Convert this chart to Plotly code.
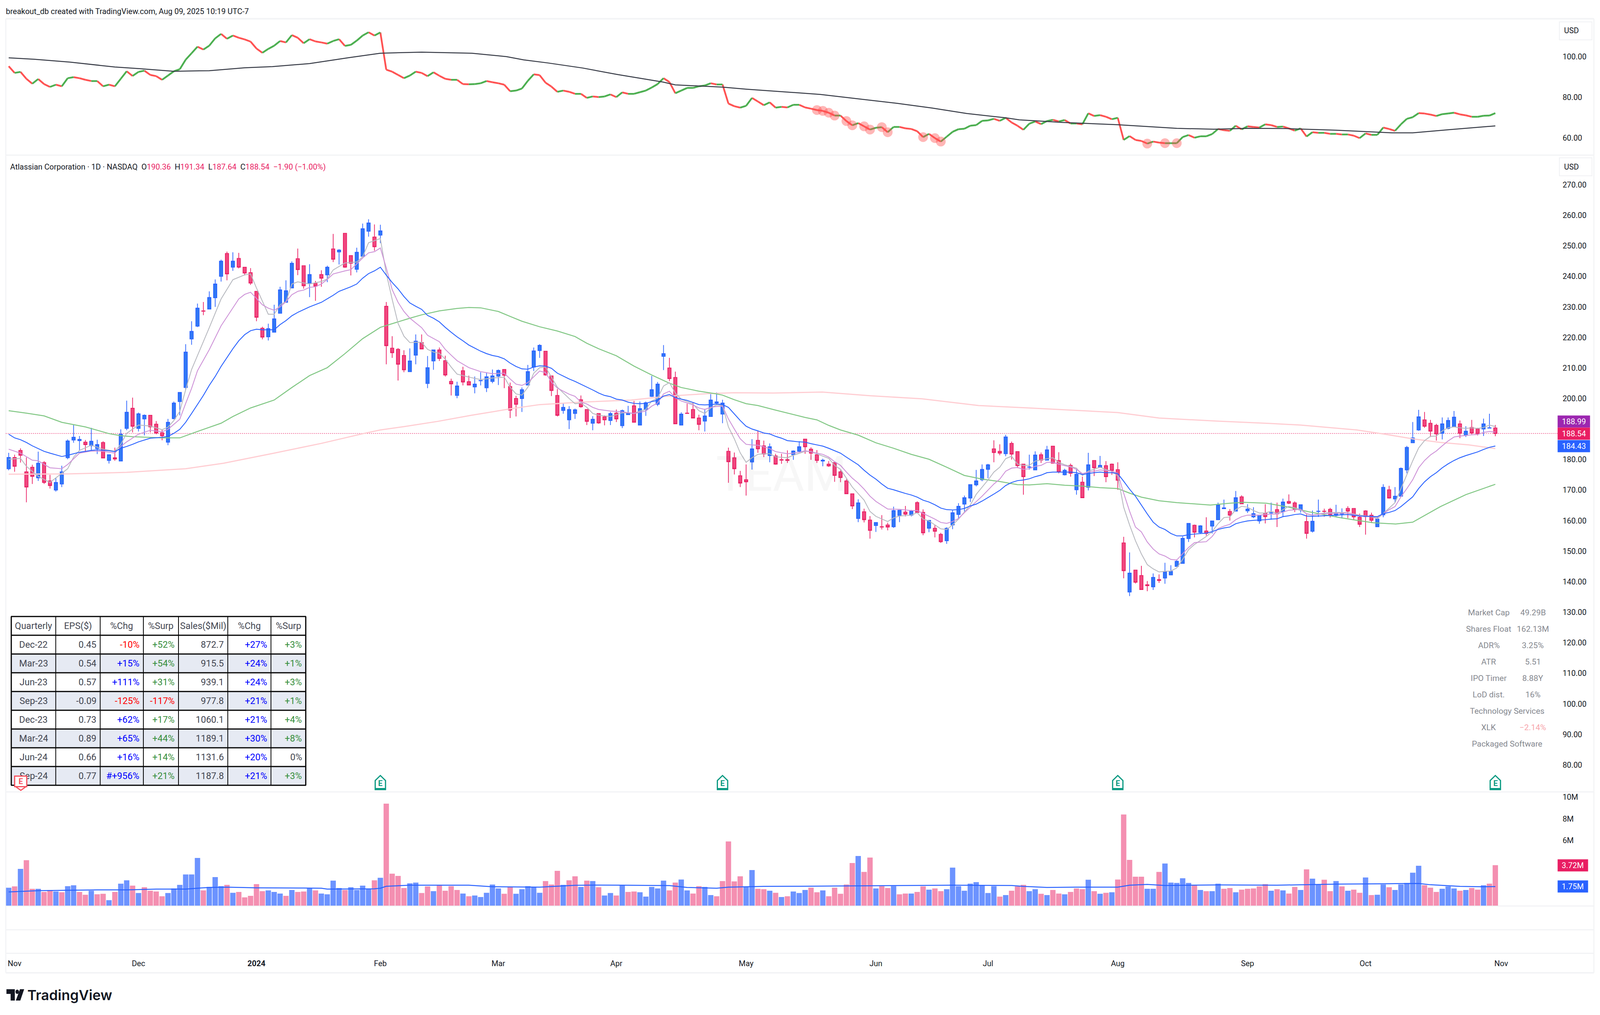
import plotly.graph_objects as go

# Reference geometry: positions below are given on a 4966 x 2598 sheet and converted to paper fractions.
W, H = 4966, 2598
FS = 0.87     # font scale: the browser's real window is narrower than the sheet
XS = 4096 / W # horizontal pixel scale of the real window

# ---------- price candles (one entry per trading day, Oct 31 2023 .. Oct 31 2024) ----------
candle_dir = """
u d d d d u d d u u
u u u d u u d u d u
u d u u d d d u u u
u u u d u u u d u d
d d d d u u u u u d
d u d d u d u d d u
u u d u d d d d u u
d u u d d d u d d u
u u u u d d d u u u
u d d d u u u d d u
d d u d u u d u u u
u u d d u d d d u u
u u d d d d u d d u
d d d u u d d d u d
d d d d u d d u d d
u u d u d d u d d u
u u u u u u u d d u
d d d u u d u d d u
d u d u d u d d d d
u d d d u d u u u u
u d u d u u u d u d
u u u d u d u d d u
d u u d d u u d d d
d d u u d u u u u u
d d d u u u d u d d
u u d""".split()

body_top = [
 180.7,180.7,183.0,176.0,177.5,178.8,179.0,173.0,172.5,176.0,
 186.1,187.3,186.6,185.7,186.0,184.9,185.6,181.6,180.6,188.3,
 195.5,196.8,195.0,194.5,194.5,191.6,188.8,192.2,198.5,202.0,
 215.2,222.0,229.6,228.7,233.1,237.5,245.0,247.5,245.0,245.9,
 243.0,241.2,235.1,223.0,222.9,226.1,235.6,235.3,244.3,245.8,
 243.5,240.6,237.7,240.6,243.0,249.0,248.6,254.1,246.8,247.9,
 255.6,257.5,252.9,254.9,230.2,216.5,216.1,214.1,212.3,218.8,
 218.3,210.1,215.9,215.9,212.4,205.6,204.1,209.1,205.5,204.7,
 205.9,207.1,207.4,209.2,209.5,203.9,200.0,202.9,208.8,215.6,
 217.4,215.5,207.4,201.0,197.1,196.4,196.3,199.6,196.4,193.2,
 195.1,194.0,195.1,195.2,196.0,195.3,197.6,196.7,198.6,202.9,
 204.7,214.7,210.0,206.9,194.9,195.2,196.4,193.6,194.3,199.5,
 198.9,198.5,182.7,180.6,174.7,173.4,183.5,186.3,184.5,184.2,
 181.2,180.0,180.0,182.8,184.2,186.7,183.4,181.6,179.8,178.5,
 179.0,176.0,173.0,168.8,165.8,162.9,160.2,159.4,158.0,158.6,
 163.3,163.4,162.8,163.1,165.9,162.7,160.1,157.5,155.5,157.5,
 162.6,164.7,167.5,171.8,173.0,176.8,178.3,183.5,182.7,187.4,
 185.3,182.6,178.5,177.6,181.5,181.6,183.2,184.4,179.7,176.5,
 178.1,175.2,172.6,178.3,179.7,178.1,178.0,178.5,176.7,152.7,
 142.8,143.8,142.0,139.0,141.4,140.7,143.2,143.4,146.7,154.2,
 159.1,158.5,158.3,156.6,159.9,165.1,164.2,163.0,167.5,167.8,
 163.8,162.3,161.8,162.5,162.6,163.6,166.1,166.3,165.8,165.2,
 159.7,159.8,163.1,163.1,163.7,162.6,162.3,164.0,164.0,161.1,
 163.2,161.8,160.5,170.9,170.1,168.0,177.1,184.0,187.1,194.0,
 193.0,191.9,191.2,191.7,192.8,193.9,191.7,189.3,190.5,190.0,
 191.7,190.4,190.36]
body_bottom = [
 177.0,177.8,181.4,171.0,174.5,174.0,172.5,171.5,170.0,172.0,
 180.6,186.4,186.2,184.9,184.5,183.6,180.5,179.7,180.2,179.5,
 190.2,190.9,190.2,193.3,190.7,188.7,187.8,185.7,193.4,199.0,
 203.6,219.5,223.7,228.6,229.3,233.0,240.0,240.8,243.0,243.0,
 241.1,237.8,226.6,220.1,220.2,221.7,227.9,231.5,236.2,242.2,
 236.9,237.8,236.8,239.4,240.5,245.6,248.0,243.0,244.3,242.3,
 246.6,254.8,249.7,253.5,217.3,215.0,211.2,209.4,208.8,214.2,
 216.2,204.9,212.3,213.1,207.7,204.8,201.0,205.4,204.4,203.8,
 205.8,203.5,205.6,207.3,207.6,196.2,198.1,200.0,204.4,210.3,
 215.7,207.7,202.6,194.5,196.1,193.0,195.1,197.3,192.5,191.9,
 192.0,193.0,192.8,193.3,191.1,194.7,192.2,191.3,196.3,200.7,
 198.1,213.8,206.5,191.7,191.3,195.1,193.6,191.5,192.6,194.1,
 198.5,194.9,179.3,177.0,172.3,172.7,179.2,183.5,181.8,181.3,
 178.5,179.8,179.7,181.6,182.7,184.2,182.1,179.7,179.5,177.9,
 174.8,174.1,168.8,164.8,160.7,160.3,156.8,158.4,157.9,157.9,
 158.0,161.7,162.1,161.8,162.7,156.0,157.5,156.5,153.1,153.4,
 158.6,162.0,165.4,167.4,171.7,173.4,176.8,182.3,182.1,181.9,
 181.8,178.0,174.4,177.5,176.6,179.8,179.8,178.8,176.0,175.0,
 175.5,170.1,167.5,170.9,177.3,177.4,174.4,176.4,173.2,143.6,
 136.6,139.8,137.4,138.7,138.3,140.4,141.2,142.2,145.0,146.0,
 154.1,156.2,156.1,155.8,158.2,160.3,163.9,161.8,163.1,165.5,
 163.2,161.2,159.9,161.3,162.5,162.2,162.9,165.7,163.7,163.5,
 155.8,156.5,163.0,163.0,162.0,161.7,162.2,163.1,161.2,158.8,
 161.3,160.1,158.0,161.9,167.4,167.1,168.0,176.6,185.5,189.7,
 190.9,189.3,188.4,188.6,190.2,190.7,188.6,188.0,188.7,188.5,
 190.0,190.3,188.54]
highs = [
 182.2,181.6,183.7,180.7,178.3,182.6,179.5,175.0,174.0,178.0,
 186.6,191.4,187.7,186.4,190.4,186.5,186.0,181.6,183.9,189.9,
 199.3,200.3,195.4,194.8,194.5,192.6,189.9,193.3,199.0,202.0,
 217.8,225.3,231.1,231.6,235.1,239.0,245.5,248.1,247.9,247.7,
 243.0,242.7,235.1,223.5,224.5,230.7,236.6,238.7,244.9,249.1,
 243.5,244.0,238.5,242.0,243.5,253.9,248.9,254.1,246.8,249.4,
 257.3,258.7,257.0,256.9,231.6,220.4,216.5,215.8,216.4,221.0,
 221.0,213.9,215.9,216.7,214.0,206.5,205.5,210.4,207.5,207.2,
 208.6,208.6,209.5,209.5,209.5,205.2,200.9,203.6,211.0,216.7,
 217.8,215.5,207.4,203.1,198.5,197.5,196.7,201.0,196.4,194.2,
 195.2,194.5,195.6,196.4,196.4,197.6,199.2,199.0,199.0,207.4,
 205.4,217.5,213.3,208.8,195.5,198.3,198.7,194.7,196.6,201.6,
 202.0,199.6,183.9,182.3,176.3,178.4,186.7,189.5,186.2,185.3,
 181.9,181.9,183.0,183.0,186.0,186.7,184.0,183.1,180.3,179.5,
 179.0,176.5,173.6,168.8,167.0,163.9,161.5,159.4,161.8,159.3,
 164.6,163.4,164.8,163.5,166.3,163.7,160.1,158.5,156.0,157.8,
 163.5,165.7,168.2,171.9,176.6,178.4,178.6,186.3,185.0,188.1,
 185.9,182.6,178.5,181.6,182.7,182.3,184.5,184.4,182.4,177.0,
 178.7,177.0,174.4,182.2,179.7,181.2,179.5,178.7,179.1,154.7,
 149.6,143.8,145.2,140.2,142.7,142.4,146.2,145.4,147.3,154.8,
 159.1,158.7,158.5,161.1,159.9,165.9,166.9,163.8,169.7,168.3,
 165.4,164.4,161.8,165.4,165.9,165.9,167.2,168.6,166.3,165.2,
 162.0,163.3,166.9,163.9,164.2,165.2,164.0,164.7,164.0,162.3,
 163.4,162.6,161.0,171.9,171.4,171.0,177.4,184.5,192.3,196.3,
 195.6,193.0,191.7,193.8,193.8,195.9,192.8,190.9,193.0,190.4,
 193.4,195.0,191.34]
lows = [
 176.5,176.0,179.0,166.0,172.0,173.0,172.0,170.5,169.5,171.0,
 180.1,185.5,183.0,182.6,182.7,181.8,180.5,178.7,179.6,179.5,
 189.6,188.9,189.2,187.9,188.9,188.3,186.3,184.7,193.2,194.5,
 202.8,217.6,223.4,227.3,229.3,230.0,238.3,238.7,241.8,242.6,
 240.3,237.2,225.3,219.4,219.0,221.7,227.9,231.5,236.2,240.4,
 236.0,233.2,232.0,236.6,238.1,244.7,243.9,242.8,240.3,241.3,
 246.6,253.0,248.4,250.9,211.2,213.3,205.9,208.6,208.8,211.2,
 216.2,203.4,209.4,212.3,207.2,201.0,200.1,204.3,204.4,201.7,
 204.3,202.1,205.0,204.4,203.4,193.6,194.1,195.6,204.4,209.0,
 213.3,207.5,200.8,194.1,195.0,190.0,193.3,197.0,191.3,189.6,
 191.7,191.2,191.3,192.3,190.3,194.7,192.2,191.3,194.3,200.5,
 197.5,209.3,205.7,191.7,191.3,195.1,193.6,189.6,189.2,194.0,
 198.2,191.9,172.4,175.1,171.0,168.2,176.7,182.2,180.8,179.1,
 178.3,178.6,178.9,179.9,182.4,181.9,179.9,178.9,177.8,177.6,
 172.7,172.6,168.8,163.8,159.5,159.4,154.1,156.3,157.1,156.8,
 157.6,159.5,161.4,161.4,162.7,155.2,156.2,154.5,152.7,152.4,
 157.2,160.7,163.0,166.1,171.2,172.9,173.9,179.1,181.4,181.1,
 180.0,177.2,168.5,176.7,176.6,178.9,179.8,178.8,175.5,174.8,
 174.4,168.5,167.4,169.9,174.6,177.4,172.6,175.0,170.1,141.1,
 135.3,139.4,137.4,136.9,137.3,139.6,139.3,142.2,145.0,146.0,
 153.0,154.5,155.8,155.1,155.8,160.3,163.8,160.0,163.1,165.4,
 162.5,160.8,159.0,159.1,160.3,157.9,161.3,165.4,162.8,162.6,
 154.1,156.1,161.2,161.3,161.0,161.1,160.7,160.8,160.3,157.9,
 155.4,159.2,158.0,161.1,167.2,165.9,168.0,175.5,185.5,189.4,
 190.4,187.4,186.2,186.6,189.9,190.6,187.0,187.4,188.3,187.9,
 187.7,190.3,187.64]

# ---------- moving averages on price: (bar index, price) ----------
ma_gray = [(0,180.1),(2,180.4),(3,177.8),(5,174.5),(7,172.5),(9,175.5),(10,177),(11,180.8),(12,183),(14,184.7),(16,183.4),(18,182.7),(19,185),(20,188.6),(22,191.3),(24,191),(26,189.8),(27,190.6),(28,192.8),(29,195.8),(30,202.9),(31,209.5),(32,214),(34,223.2),(36,232.6),(38,238.9),(40,240.5),(41,240.8),(42,236.2),(44,227.6),(45,227.6),(46,230.7),(47,231.7),(48,237.5),(49,238.2),(51,237.5),(53,238.3),(54,239.2),(55,242.1),(57,244.4),(59,244.7),(60,246.4),(61,251),(63,252.4),(64,241),(65,232.5),(66,224.6),(67,220.4),(68,218.3),(69,218.4),(70,218.4),(71,216.1),(72,215.2),(73,214.8),(74,212.9),(75,210.3),(76,208),(78,207),(80,206.2),(82,206.7),(84,207),(85,203.7),(86,201.5),(87,201.1),(88,203.7),(89,208.3),(90,210.1),(91,210.3),(92,207),(93,203.7),(95,200),(96,198.3),(97,198.5),(98,197.1),(99,195.1),(100,194.5),(102,194.1),(104,195.3),(105,195.3),(106,195.1),(107,195.9),(108,196.4),(109,199.2),(110,200.1),(111,204.1),(112,205.2),(113,201.8),(114,199.8),(116,198.2),(117,196),(118,195.1),(119,196.9),(120,197.9),(121,197.7),(122,190.7),(123,186.8),(124,182.2),(125,179.1),(126,180.6),(127,181.7),(128,181.9),(129,181.9),(130,180.9),(132,180.6),(133,181.4),(135,182.7),(136,182.6),(138,181.1),(139,180.4),(140,178.1),(141,176.8),(142,173.9),(143,171),(145,166.7),(146,163),(147,161.4),(149,159.7),(150,160.9),(151,161.5),(153,161.8),(154,162.6),(155,160.5),(156,159.9),(158,157.3),(159,157.1),(160,158.6),(161,160.5),(162,162.8),(163,165.1),(164,168.6),(166,173.3),(167,175.9),(168,177.5),(169,180.3),(170,181.1),(171,178.5),(172,178.1),(173,178.1),(174,179.5),(176,180.3),(177,180.6),(178,179.1),(179,178.3),(181,177.2),(182,174.8),(183,176.2),(184,176.9),(185,177.5),(186,176.7),(187,176.2),(188,174.6),(189,164.4),(190,158.6),(191,153.4),(192,149.1),(193,145.6),(194,144.2),(195,143.2),(196,143.4),(197,143.5),(198,144.5),(199,147.3),(200,150.5),(201,152.2),(203,154.8),(204,156.4),(205,159),(206,161),(207,161.2),(208,163.6),(209,164.7),(210,164.4),(211,163.3),(212,162.5),(213,162.5),(214,163.1),(215,162.3),(216,163.6),(217,164.7),(218,164.2),(219,163.6),(220,162.2),(221,161.8),(223,162.5),(225,162.7),(227,162.6),(229,161.8),(231,161.3),(232,160.6),(233,162.3),(234,164.1),(235,165.9),(236,170.4),(237,175),(238,179.6),(239,183.8),(240,186.2),(241,187.6),(242,187.7),(243,189.4),(244,190.4),(245,190.7),(246,190.4),(247,190.2),(248,190.4),(249,190.2),(250,190.5),(251,191.3),(252,190.8)]
ma_purple = [(0,183.4),(2,182.1),(4,179.8),(5,179.6),(7,177.3),(9,177),(10,178.4),(12,182.1),(14,182.8),(16,182.7),(18,182.1),(19,184.3),(20,185.8),(22,188.3),(24,189.6),(26,189.1),(27,189.9),(28,191.5),(29,193.2),(30,198.4),(31,203.3),(32,209.1),(34,216),(36,223.8),(38,229.7),(39,232.6),(40,234.1),(41,234.8),(42,232.8),(43,230.7),(44,229.6),(45,228.9),(46,230),(47,231.7),(48,234),(49,235.1),(50,235.5),(51,236.4),(52,236.6),(53,237.5),(54,239),(55,240.8),(57,241.8),(58,242.2),(59,244.1),(60,246),(61,247.7),(62,248.1),(63,249.3),(64,242.8),(65,235.7),(66,231.5),(67,228.5),(68,226.3),(70,223.2),(71,220.7),(73,218.6),(74,216.1),(75,214.2),(76,212.4),(78,210.1),(80,208.8),(82,208.1),(84,208.3),(85,206.4),(86,204.7),(87,204.3),(88,205.2),(89,207.1),(90,209),(91,208.5),(92,205.4),(93,203.4),(95,201.4),(96,200.7),(97,198.8),(98,198.2),(99,197.1),(100,196.4),(102,195.9),(104,195.6),(106,195.1),(108,195.9),(109,197.5),(110,198.5),(111,201.5),(112,202.4),(113,200.2),(114,199.2),(116,197.9),(117,196.9),(118,196.4),(119,197.1),(120,197.4),(121,197.5),(122,193.3),(123,190),(124,186.8),(125,185),(126,184.8),(127,184.7),(128,184.2),(129,183.6),(130,182.6),(132,181.9),(133,182.1),(134,182.4),(135,182.9),(137,182.1),(138,181.7),(139,180.8),(140,179.3),(141,178.1),(142,175.9),(143,173.9),(144,172.3),(145,170.3),(146,168),(147,166.3),(148,165),(149,163.8),(151,163.7),(153,163.3),(154,163.3),(155,162.4),(156,161.5),(157,160.5),(158,159.4),(159,159.1),(160,159.7),(161,160.7),(162,162.6),(163,164.4),(164,166.1),(165,168),(166,170),(167,172),(168,173.6),(169,176.2),(170,177.2),(171,177.4),(172,176.8),(173,177),(174,177.8),(175,178.1),(176,179.1),(177,179.1),(178,178.5),(179,178),(180,177.6),(181,176.8),(182,175.4),(183,175.9),(184,176.2),(185,176.6),(186,176.4),(187,176.2),(188,175.5),(189,169),(190,163.1),(191,157.9),(192,156.3),(193,153),(194,150.7),(195,149.1),(196,148.4),(197,147.3),(198,147.1),(199,149.2),(200,151.2),(201,152.8),(203,153.1),(204,154.8),(205,157.4),(206,158.2),(207,158.8),(208,160.3),(209,161.3),(210,161.8),(211,161.8),(212,161.8),(213,162),(215,162.2),(216,162.8),(217,163.4),(219,163.7),(220,162.3),(221,161.8),(223,162.3),(225,162.4),(227,162.5),(229,161.6),(231,161.3),(232,161.1),(233,162.3),(234,163.6),(235,164.6),(236,167.8),(237,170.5),(238,173.4),(239,177.3),(240,179.7),(241,181.5),(242,182.8),(243,184.5),(244,186.1),(245,187.4),(246,187.7),(247,187.9),(248,188.1),(249,188.2),(250,188.9),(251,189.2),(252,188.99)]
ma_blue = [(0,188.3),(1,187.1),(2,186.5),(3,185.6),(4,184.5),(6,182.7),(7,182.1),(9,181),(10,181.4),(12,182.4),(14,183),(15,183.2),(17,182.9),(18,182.6),(19,183.7),(20,184.3),(21,185),(22,185.8),(24,187),(26,187.3),(27,187.6),(28,188.6),(29,189.9),(30,192.2),(31,195.1),(32,198),(33,201),(34,204.3),(35,207.2),(36,210.5),(37,213.4),(38,216.3),(39,218.9),(40,220.9),(41,222.2),(42,222.7),(43,222.5),(45,222.5),(46,224.2),(47,225.5),(48,227.1),(49,228.2),(50,229.1),(51,230),(53,231.5),(54,232.6),(55,233.8),(56,235.1),(58,236.6),(59,237.5),(60,239.4),(61,240.9),(62,241.8),(63,243),(64,240.4),(65,238),(66,235.9),(67,233.4),(68,231.3),(69,230.2),(70,229.2),(71,227.2),(72,226.3),(73,225.1),(74,223.3),(75,221.7),(76,220.2),(77,218.9),(78,217.5),(79,216.5),(80,215.5),(81,214.7),(82,214.1),(83,213.7),(84,213),(85,211.6),(86,210.5),(87,209.7),(88,209.6),(89,210.3),(90,210.7),(91,210.6),(92,209.9),(93,208.3),(94,207.3),(95,206.4),(96,205.6),(97,204.7),(98,203.7),(99,202.8),(100,201.8),(101,201),(102,200.6),(103,199.8),(104,199.5),(105,198.8),(106,198.4),(107,198.3),(108,198.4),(109,199),(110,199.4),(111,200.8),(112,201.3),(113,200.3),(114,199.8),(115,199.4),(116,198.7),(117,198),(118,197.9),(119,198),(120,198.2),(121,198),(122,197.1),(123,194.9),(124,192.8),(125,190.9),(126,190),(127,189.4),(128,188.7),(129,188.4),(130,187.6),(131,187),(132,186.2),(133,186),(134,185.8),(135,185.7),(136,185.2),(137,184.8),(138,184.4),(139,183.7),(140,182.9),(141,182.1),(142,180.8),(143,179.5),(144,178.3),(145,176.5),(146,174.9),(147,173.6),(148,172),(149,170.6),(150,170.1),(151,169.5),(152,168.9),(153,168.4),(154,167.7),(155,166.7),(156,166.1),(157,165.2),(158,164.1),(159,163.6),(160,163.5),(161,163.6),(162,164),(163,164.8),(164,165.4),(165,166.4),(166,167.5),(167,168.7),(168,169.9),(169,171.5),(170,172.5),(171,173.1),(172,173.3),(173,173.7),(174,174.4),(175,174.9),(176,175.7),(177,175.9),(178,175.9),(179,175.9),(180,175.9),(181,175.7),(182,175.1),(183,175.4),(184,175.7),(185,175.9),(186,175.7),(187,175.7),(188,175.4),(189,172.9),(190,170.3),(191,168),(192,165.1),(193,162.2),(194,159.5),(195,157.9),(196,157.1),(197,155.8),(198,155),(199,155),(200,155.4),(201,155.6),(203,155.9),(204,156.4),(205,157.1),(206,157.6),(207,157.9),(208,159),(209,159.5),(210,159.9),(211,160.1),(212,160.2),(213,160.3),(214,160.5),(215,160.6),(216,161.3),(217,161.6),(218,162),(219,162.2),(220,161.5),(221,161.4),(223,161.6),(225,161.8),(227,162),(229,161.5),(231,161.4),(232,161.3),(233,162.3),(234,162.7),(235,163.3),(236,164.6),(237,166.2),(238,167.8),(239,170.5),(240,172.7),(241,174.4),(242,175.7),(243,177.3),(244,178.6),(245,179.7),(246,180.6),(247,181.3),(248,181.9),(249,182.5),(250,183.3),(251,184),(252,184.43)]
ma_green = [(0,196),(3,195.2),(6,194.3),(9,192.2),(13,190.7),(17,188.5),(19,187.8),(21,187.5),(26,187.1),(29,187.1),(32,189.2),(36,191.9),(38,194.1),(41,196.9),(45,199.5),(48,203.6),(51,207.5),(54,210.1),(57,214.7),(60,219.6),(63,223.3),(66,225.1),(68,226.3),(70,227.4),(73,228.7),(76,229.5),(78,229.8),(80,229.7),(83,228.5),(85,226.9),(87,225.3),(90,223.5),(93,222.1),(96,220.3),(98,218.1),(100,216.3),(103,214),(106,210.6),(109,207.7),(112,205),(114,203.6),(117,202.4),(120,201.5),(121,201.1),(123,199.6),(125,198.3),(127,197.7),(130,196.2),(133,194.8),(135,193.8),(137,193),(139,191.2),(141,189.7),(144,188),(147,185.5),(150,183.7),(153,181.7),(156,180.1),(159,177.5),(162,174.8),(165,173.6),(168,172.8),(171,171.8),(173,171.7),(176,172.1),(179,171.6),(182,171.3),(185,170.8),(188,170.5),(190,169),(192,167.7),(195,166.5),(198,165.9),(200.8,165.5),(203.7,165.1),(207,165.7),(209.4,166),(213.2,165.7),(216.5,164.6),(220.4,162.9),(225.6,161),(228.5,160.1),(231.3,159.3),(235.1,158.9),(238,159.5),(242.7,164.6),(247,168.5),(252,171.9)]
ma_pink = [(0,175.2),(10,175.3),(20,175.8),(30,177),(36.4,178.8),(44.7,182),(53,185.3),(60.3,188.6),(63,189.7),(67,190.8),(72.7,192.5),(78.4,194.5),(85,196.6),(90,198),(96.8,198.8),(105.5,199.5),(112,200.8),(118.5,201.6),(123,201.9),(129.6,201.8),(137.9,202.1),(146.1,200.9),(154.8,199.9),(164.4,197.7),(173,196.9),(180,196.2),(188,195.4),(195,193.6),(204.7,192.6),(214,191.8),(219,191.3),(228.5,189.7),(233,188.4),(238,186.8),(242.7,185.6),(247.5,184.8),(252,183.6)]

# ---------- relative-strength panel ----------
rs_values = [
 95.3,92.0,92.5,89.1,86.7,89.0,86.5,85.1,86.2,85.4,89.4,89.9,89.4,88.6,88.0,88.0,85.4,86.2,85.4,89.1,
 92.8,90.5,92.5,93.1,91.0,90.4,88.6,90.7,92.8,93.8,98.5,101.7,104.9,103.5,105.4,109.0,111.2,108.8,110.4,109.3,
 108.5,107.4,104.0,101.9,103.8,105.4,107.7,107.0,110.6,109.3,106.6,108.6,107.5,107.0,106.4,107.7,108.6,105.3,105.8,107.9,
 110.4,112.0,110.4,111.9,93.6,92.6,91.0,89.4,90.7,92.6,92.0,90.4,92.3,90.6,89.1,88.6,88.6,86.5,86.4,86.5,
 86.9,88.0,87.4,86.9,86.2,83.0,83.3,84.3,88.1,91.3,90.9,87.2,
 85.25,82.7,83.3,82.7,81.7,81.7,79.7,80.4,80.1,80.4,81.4,80.1,82.4,81.7,81.7,82.5,83.3,84.8,86.5,89.4,87.5,82.0,
 83.3,84.6,84.6,85.4,85.8,86.9,86.3,86.3,76.9,75.6,74.9,75.8,79.7,77.9,76.1,77.5,74.9,75.3,75.0,76.3,76.3,75.0,
 74.4,73.7,73.3,72.4,71.0,71.0,68.3,66.2,67.3,65.7,64.1,65.0,65.3,62.8,65.4,65.4,64.7,64.4,63.3,60.4,62.0,59.9,
 58.2,60.6,63.0,64.3,64.5,66.0,66.3,68.4,68.6,69.4,68.4,69.9,67.6,66.0,64.0,67.0,68.1,66.8,68.3,68.9,68.1,68.8,
 67.1,67.1,66.7,72.1,70.8,
 71.2,70.4,69.2,69.9,59.0,60.9,59.0,58.5,57.2,58.2,57.7,57.4,57.4,57.4,60.4,61.4,60.1,60.8,60.8,61.9,64.4,63.8,
 63.5,66.0,64.2,65.7,65.4,65.1,66.7,66.3,65.4,65.6,64.7,63.6,64.7,60.7,62.8,62.5,62.5,62.0,62.0,61.7,61.7,61.1,
 59.9,62.2,61.5,61.5,65.1,64.4,63.5,66.7,69.4,70.2,72.2,72.0,71.5,70.8,71.7,72.0,72.4,71.6,71.1,70.4,70.4,70.9,
 71.0,72.2]
rs_ma = [(0,99.4),(4.4,98.7),(10.4,97.3),(18,94.9),(22.2,94.1),(28,92.8),(34,93.1),(40,94.5),(44.7,95.1),(51,96.6),(57.7,99.5),(63,101.7),(70,102.2),(78.5,101.7),(84.4,100),(87.3,98.4),(91.4,96.9),(97.3,94.4),(103.2,91.2),(110.9,87.5),(113,86.1),(121,85),(125,84),(137.6,81.4),(150.6,77),(156.5,74.7),(162.4,72),(169,69.9),(171.3,68.9),(178.8,67.6),(188,66.5),(198,64.7),(204.3,64.3),(210,64.7),(216.5,64.6),(225,63.8),(234.5,62.5),(238,62.5),(244.3,64.1),(252,65.9)]
rs_new_lows = [137,138,139,140,142,143,145,146,148,149,155,157,158,193,196,198]

# ---------- volume panel (millions of shares) ----------
volumes = [
 1.65,1.77,3.38,4.18,1.55,1.55,1.26,1.43,1.30,1.23,1.79,1.87,1.26,1.00,1.37,1.04,1.09,0.50,1.26,2.02,
 2.33,1.84,1.16,1.69,1.37,1.30,0.86,1.16,1.58,1.91,2.87,2.87,4.39,1.40,1.72,2.63,1.79,1.91,1.18,1.26,
 0.76,0.90,1.98,1.33,1.40,1.26,1.11,0.90,1.44,1.26,1.30,1.58,1.40,1.11,1.04,2.30,1.62,1.44,1.69,1.44,
 1.84,1.55,2.33,2.56,9.39,2.94,2.73,1.62,2.05,2.12,1.16,1.77,1.33,1.91,1.37,1.79,1.44,1.11,0.86,0.93,
 0.79,1.18,1.94,1.58,1.09,1.69,1.09,1.51,1.79,1.69,1.18,2.26,
 1.94,3.20,1.91,2.33,2.70,1.72,2.30,2.26,1.69,0.93,1.16,0.93,1.88,1.26,1.30,1.23,0.83,1.72,1.58,2.30,
 1.40,2.12,2.40,1.40,1.11,1.79,1.72,0.97,0.86,2.26,5.91,2.23,2.70,1.72,3.27,1.55,1.51,1.37,1.18,0.79,
 0.86,1.30,1.16,1.44,1.65,1.23,1.40,0.86,1.65,1.09,1.94,3.92,4.57,3.10,4.42,1.58,1.79,1.62,1.79,1.04,
 1.11,1.11,1.26,1.77,1.47,1.58,1.33,1.51,3.50,1.79,1.37,2.02,2.16,1.84,1.16,1.79,0.83,0.97,1.37,1.77,
 1.91,1.33,1.51,1.09,0.97,1.44,1.11,1.04,1.26,1.58,
 1.51,2.38,1.33,1.09,1.18,1.23,2.40,8.39,4.21,2.66,2.66,1.55,1.55,3.10,3.88,2.12,2.09,2.52,2.09,1.88,
 1.44,1.33,1.33,2.02,1.55,1.62,1.23,1.47,1.55,1.58,1.77,1.98,1.37,1.51,1.40,1.11,1.72,1.44,3.34,2.48,
 1.92,2.38,1.33,2.26,1.77,1.37,1.47,1.18,2.59,0.97,1.00,1.94,1.69,1.44,1.95,2.09,3.03,3.67,1.88,1.65,
 1.26,1.55,1.77,1.58,1.37,1.44,1.62,1.47,1.87,2.02,3.72]
volume_side = """
b p b p p b p p b p
b b p p b p p b p b
b p b p p p p b b b
b b b p b b b p b p
p p p p b b b p b p
p b p b b b b p b b
b b p b p p p p b b
p p b p p p p b p b
b b b b p p b b b b
b p p p b p p b p b
p b b p b p p b b b
b b p p b b p p b b
p p p p p b b p p b
p b p b b b p p b p
p p p p b p p b p p
b p p b p p b p p b
b b b b b b b b p b
p p p b b p b p p b
p p p b p b p b p p
p p p b b p b b b b
b p b p b b p p b p
p p p p b p b p p b
p b b p p b p b p p
b p b b p b b b b b
p p p b b b p b p p
b p p""".split()
volume_ma = [(0,1.26),(5,1.38),(15,1.45),(20,1.45),(25,1.52),(30,1.52),(32,1.6),(34,1.67),(37,1.70),(42,1.64),(50,1.62),(53,1.60),(54,1.52),(62,1.55),(63,1.60),(64,1.78),(68,1.88),(78,1.88),(82,1.74),(90,1.70),(96,1.87),(100,1.89),(104,1.88),(112,1.84),(115,1.67),(120,1.60),(122,1.70),(128,1.77),(134,1.78),(145,1.81),(150,1.84),(160,1.88),(170,1.85),(172,1.77),(176,1.67),(181,1.70),(185,1.71),(188,1.70),(190,1.88),(193,1.95),(196,1.85),(205,1.91),(215,1.88),(225,1.98),(235,2.02),(239,2.04),(241,1.92),(246,1.77),(250,1.74),(252,1.75)]

# ---------- tables and text ----------
month_bars = [1,22,42,63,83,103,125,147,166,188,210,230,253]
month_labels = ["Nov","Dec","<b>2024</b>","Feb","Mar","Apr","May","Jun","Jul","Aug","Sep","Oct","Nov"]
price_ticks = [80,90,100,110,120,130,140,150,160,170,180,200,210,220,230,240,250,260,270]
rs_ticks = [60, 80, 100]
volume_ticks = [6, 8, 10]
earnings_beat_bars = [63, 121, 188, 252]
earnings_miss_bar = 2

table_header = ["Quarterly","EPS($)","%Chg","%Surp","Sales($Mil)","%Chg","%Surp"]
table_quarter = ["Dec-22","Mar-23","Jun-23","Sep-23","Dec-23","Mar-24","Jun-24","Sep-24"]
table_eps = ["0.45","0.54","0.57","-0.09","0.73","0.89","0.66","0.77"]
table_eps_chg = ["-10%","+15%","+111%","-125%","+62%","+65%","+16%","#+956%"]
table_eps_surp = ["+52%","+54%","+31%","-117%","+17%","+44%","+14%","+21%"]
table_sales = ["872.7","915.5","939.1","977.8","1060.1","1189.1","1131.6","1187.8"]
table_sales_chg = ["+27%","+24%","+24%","+21%","+21%","+30%","+20%","+21%"]
table_sales_surp = ["+3%","+1%","+3%","+1%","+4%","+8%","0%","+3%"]

stats_rows = [("Market Cap","49.29B"),("Shares Float","162.13M"),("ADR%","3.25%"),("ATR","5.51"),
              ("IPO Timer","8.88Y"),("LoD dist.","16%")]

# ---------- colours ----------
UP, UP_FILL = "#2962FF", "#3179F5"
DOWN, DOWN_FILL = "#E91E63", "#F0487F"
VOL_UP, VOL_DOWN = "#6C93FF", "#F48FB1"
TXT = "#131722"
FONT = "Roboto"

n = len(body_top)
bars = list(range(n))
assert all(len(s) == n for s in (body_bottom, highs, lows, candle_dir, rs_values, volumes, volume_side)), \
    [len(s) for s in (body_bottom, highs, lows, candle_dir, rs_values, volumes, volume_side)]

opens = [b if d == "u" else t for t, b, d in zip(body_top, body_bottom, candle_dir)]
closes = [t if d == "u" else b for t, b, d in zip(body_top, body_bottom, candle_dir)]

# ---------- page geometry ----------
def fx(px): return px / W
def fy(py): return 1 - py / H

BAR0, BARSTEP = 27, 18.31
PLOT_L, PLOT_R, FRAME_R = 18, 4834, 4947
xrange_all = [(PLOT_L - BAR0) / BARSTEP, (PLOT_R - BAR0) / BARSTEP]
def bar_px(k): return BAR0 + BARSTEP * k

fig = go.Figure()

# RS panel
xs_r, ys_r, xs_g, ys_g = [], [], [], []
for i in range(n - 1):
    if rs_values[i + 1] >= rs_values[i]:
        xs_g += [i, i + 1, None]; ys_g += [rs_values[i], rs_values[i + 1], None]
    else:
        xs_r += [i, i + 1, None]; ys_r += [rs_values[i], rs_values[i + 1], None]
fig.add_trace(go.Scatter(x=xs_r, y=ys_r, mode="lines", line=dict(color="#FF5252", width=4.5), xaxis="x", yaxis="y"))
fig.add_trace(go.Scatter(x=xs_g, y=ys_g, mode="lines", line=dict(color="#4CAF50", width=4.5), xaxis="x", yaxis="y"))
fig.add_trace(go.Scatter(x=[p[0] for p in rs_ma], y=[p[1] for p in rs_ma], mode="lines",
                         line=dict(color="#363A45", width=2.5), xaxis="x", yaxis="y"))
fig.add_trace(go.Scatter(x=rs_new_lows, y=[rs_values[k] for k in rs_new_lows], mode="markers",
                         marker=dict(size=25, color="rgba(255,82,82,0.42)", line=dict(width=0)), xaxis="x", yaxis="y"))

# Price panel
fig.add_trace(go.Candlestick(x=bars, open=opens, high=highs, low=lows, close=closes,
                             increasing=dict(line=dict(color=UP, width=1.8), fillcolor=UP_FILL),
                             decreasing=dict(line=dict(color=DOWN, width=1.8), fillcolor=DOWN_FILL),
                             whiskerwidth=0, xaxis="x2", yaxis="y2"))
for series, colour, width in [(ma_pink, "#FFCDD2", 3), (ma_green, "#81C784", 2.5), (ma_gray, "#B8BAC0", 2.2),
                              (ma_purple, "#CE93D8", 2.2), (ma_blue, "#2962FF", 2.2)]:
    fig.add_trace(go.Scatter(x=[p[0] for p in series], y=[p[1] for p in series], mode="lines",
                             line=dict(color=colour, width=width), xaxis="x2", yaxis="y2"))

# Volume panel
fig.add_trace(go.Bar(x=bars, y=volumes, marker=dict(color=[VOL_UP if s == "b" else VOL_DOWN for s in volume_side], line=dict(width=0)),
                     xaxis="x3", yaxis="y3"))
fig.add_trace(go.Scatter(x=[p[0] for p in volume_ma], y=[p[1] for p in volume_ma], mode="lines",
                         line=dict(color="#2962FF", width=2.5), xaxis="x3", yaxis="y3"))

# ---------- shapes ----------
shapes = []
def hline(py, w=2, c="#EDEEF1"):
    shapes.append(dict(type="line", xref="paper", yref="paper", x0=fx(PLOT_L), x1=fx(FRAME_R), y0=fy(py), y1=fy(py),
                       line=dict(color=c, width=w), layer="below"))
hline(48, 4, "#F3F4F6"); hline(397); hline(2027); hline(2319); hline(2380); hline(2440); hline(2490, 4, "#F3F4F6")
for vx in (PLOT_L, FRAME_R):
    shapes.append(dict(type="line", xref="paper", yref="paper", x0=fx(vx), x1=fx(vx), y0=fy(48), y1=fy(2490),
                       line=dict(color="#F3F4F6", width=3), layer="below"))
shapes.append(dict(type="line", xref="paper", yref="y2", x0=fx(PLOT_L), x1=fx(PLOT_R), y0=closes[-1], y1=closes[-1],
                   line=dict(color=DOWN, width=1.5, dash="2px,3px"), layer="below"))
for ytop in (56, 404):
    shapes.append(dict(type="rect", xref="paper", yref="paper", x0=fx(4840), x1=fx(4941), y0=fy(ytop), y1=fy(ytop + 46),
                       line=dict(color="#F0F1F4", width=2), fillcolor="white", layer="below"))

# quarterly table
col_edges = [35, 173, 311, 445, 554, 707, 841, 949]
row_edges = [1578, 1626, 1674, 1722, 1770, 1818, 1866, 1914, 1962, 2010]
shapes.append(dict(type="rect", xref="paper", yref="paper", x0=fx(col_edges[0]), x1=fx(col_edges[-1]),
                   y0=fy(row_edges[0]), y1=fy(row_edges[-1]), fillcolor="white", line=dict(width=0), layer="above"))
for r in range(1, 9):
    if r % 2 == 0:
        shapes.append(dict(type="rect", xref="paper", yref="paper", x0=fx(col_edges[0]), x1=fx(col_edges[-1]),
                           y0=fy(row_edges[r]), y1=fy(row_edges[r + 1]), fillcolor="#E6EAF3", line=dict(width=0), layer="above"))
for py in row_edges:
    shapes.append(dict(type="line", xref="paper", yref="paper", x0=fx(col_edges[0] - 1), x1=fx(col_edges[-1] + 1), y0=fy(py), y1=fy(py),
                       line=dict(color="black", width=3), layer="above"))
for px in col_edges:
    shapes.append(dict(type="line", xref="paper", yref="paper", x0=fx(px), x1=fx(px), y0=fy(row_edges[0]), y1=fy(row_edges[-1]),
                       line=dict(color="black", width=3 if px in (35, 949) else 2), layer="above"))

# earnings flags
GREEN_E, RED_E = "#089981", "#F7525F"
for k in earnings_beat_bars:
    c = bar_px(k)
    path = (f"M {fx(c)},{fy(1985)} L {fx(c+16)},{fy(1998)} L {fx(c+16)},{fy(2021)} "
            f"L {fx(c-16)},{fy(2021)} L {fx(c-16)},{fy(1998)} Z")
    shapes.append(dict(type="path", xref="paper", yref="paper", path=path, fillcolor="white",
                       line=dict(color=GREEN_E, width=3), layer="above"))
    shapes.append(dict(type="rect", xref="paper", yref="paper", x0=fx(c-16), x1=fx(c+16), y0=fy(2017), y1=fy(2022),
                       fillcolor=GREEN_E, line=dict(width=0), layer="above"))
cmiss = bar_px(earnings_miss_bar) + 1
path = (f"M {fx(cmiss-17)},{fy(2000)} L {fx(cmiss+17)},{fy(2000)} L {fx(cmiss+17)},{fy(2013)} "
        f"L {fx(cmiss)},{fy(2023)} L {fx(cmiss-17)},{fy(2013)} Z")
shapes.append(dict(type="path", xref="paper", yref="paper", path=path, fillcolor="white",
                   line=dict(color=RED_E, width=3), layer="above"))

# TradingView logo mark
shapes.append(dict(type="path", xref="paper", yref="paper", fillcolor=TXT, line=dict(width=0), layer="above",
                   path=(f"M {fx(20)},{fy(2532)} L {fx(46)},{fy(2532)} L {fx(46)},{fy(2561)} L {fx(33)},{fy(2561)} "
                         f"L {fx(33)},{fy(2544)} L {fx(20)},{fy(2544)} Z")))
shapes.append(dict(type="circle", xref="paper", yref="paper", fillcolor=TXT, line=dict(width=0), layer="above",
                   x0=fx(48), x1=fx(59), y0=fy(2533), y1=fy(2544)))
shapes.append(dict(type="path", xref="paper", yref="paper", fillcolor=TXT, line=dict(width=0), layer="above",
                   path=(f"M {fx(62)},{fy(2532)} L {fx(75)},{fy(2532)} L {fx(63)},{fy(2561)} L {fx(49)},{fy(2561)} Z")))

# ---------- annotations ----------
ann = []
def text(px, py, s, size=23, color=TXT, anchor="left", weight=None, family=FONT):
    ann.append(dict(xref="paper", yref="paper", x=fx(px), y=fy(py), text=s, showarrow=False, xanchor=anchor, yanchor="middle",
                    font=dict(family=family, size=size * FS, color=color, **({"weight": weight} if weight else {})),
                    borderpad=0, borderwidth=0))

text(PLOT_L, 29, "breakout_db created with TradingView.com, Aug 09, 2025 10:19 UTC-7", size=23)
R = f"color:{DOWN}"
text(32, 427, f'Atlassian Corporation · 1D · NASDAQ  O<span style="{R}">190.36</span>  H<span style="{R}">191.34</span>  '
              f'L<span style="{R}">187.64</span>  C<span style="{R}">188.54</span>  <span style="{R}">−1.90 (−1.00%)</span>', size=23)
text(4878, 78, "USD", anchor="center"); text(4878, 427, "USD", anchor="center")
text(2425, 1213, "TEAM", size=143, color="rgba(19,23,34,0.035)", anchor="center")

def cell_colour(s):
    return "#FF0000" if s.startswith("-") else "#0000FF"
def surp_colour(s):
    if s.startswith("-"): return "#FF0000"
    if s.startswith("+"): return "#388E3C"
    return "#434651"
TBL = "#434651"
cols = [table_quarter, table_eps, table_eps_chg, table_eps_surp, table_sales, table_sales_chg, table_sales_surp]
for c, h in enumerate(table_header):
    text((col_edges[c] + col_edges[c + 1]) / 2, (row_edges[0] + row_edges[1]) / 2, h, size=27, color=TBL, anchor="center")
for r in range(8):
    ymid = (row_edges[r + 1] + row_edges[r + 2]) / 2
    for c, col in enumerate(cols):
        s = col[r]
        colour = TBL
        if c in (2, 5): colour = cell_colour(s)
        if c in (3, 6): colour = surp_colour(s)
        if c == 0:
            text((col_edges[0] + col_edges[1]) / 2, ymid, s, size=27, color=colour, anchor="center")
        else:
            text(col_edges[c + 1] - 12, ymid, s, size=27, color=colour, anchor="right")

# earnings letters
for k in earnings_beat_bars:
    text(bar_px(k), 2005, "E", size=23, color=GREEN_E, anchor="center", weight=700)
ann.append(dict(xref="paper", yref="paper", x=fx(cmiss), y=fy(2000), text="E", showarrow=False, xanchor="center", yanchor="middle",
                width=34 * XS, height=24, bgcolor="white", bordercolor=RED_E, borderwidth=3, borderpad=0,
                font=dict(family=FONT, size=20, color=RED_E, weight=700)))

# statistics block
STAT = "#85888F"
stat_y = 1568
for name, value in stats_rows:
    text(4621, stat_y, name, size=24, color=STAT, anchor="center")
    text(4758, stat_y, value, size=24, color=STAT, anchor="center")
    stat_y += 42
text(4678, stat_y, "Technology Services", size=24, color=STAT, anchor="center"); stat_y += 42
text(4621, stat_y, "XLK", size=24, color=STAT, anchor="center")
text(4758, stat_y, "−2.14%", size=24, color="#F7A6AC", anchor="center"); stat_y += 42
text(4678, stat_y, "Packaged Software", size=24, color=STAT, anchor="center")

# last-value labels
def value_box(yaxis, value, label, colour, width, yshift=0):
    ann.append(dict(xref="paper", yref=yaxis, x=fx(4834), y=value, text=label, showarrow=False, xanchor="left", yanchor="middle",
                    width=width * XS, height=30, bgcolor=colour, borderpad=0, yshift=yshift, align="center",
                    font=dict(family=FONT, size=23 * FS, color="white")))
value_box("y2", 188.99, "188.99", "#9C27B0", 100, yshift=27)
value_box("y2", 188.54, "188.54", DOWN, 100)
value_box("y2", 184.43, "184.43", "#2962FF", 100)
value_box("y3", 3.72, "3.72M", DOWN, 93)
value_box("y3", 1.75, "1.75M", "#2962FF", 93)

# logo word
text(85, 2547, "TradingView", size=41, color=TXT, weight=600, family="Inter")

# ---------- axes ----------
def xax(**kw):
    base = dict(range=xrange_all, domain=[fx(PLOT_L), fx(PLOT_R)], showgrid=False, zeroline=False, showline=False,
                showticklabels=False, ticks="", fixedrange=True)
    base.update(kw)
    return base
def yax(rng, dom, vals, txt, anchor):
    return dict(range=rng, domain=dom, side="right", anchor=anchor, showgrid=False, zeroline=False, showline=False,
                tickvals=vals, ticktext=txt, ticks="", ticklabelstandoff=12, fixedrange=True,
                tickfont=dict(family=FONT, size=23 * FS, color=TXT))

SCALE_RS = 5.2       # px per RS unit
SCALE_PRICE = 7.815  # px per dollar
SCALE_VOL = 27.8     # px per million
fig.update_layout(
    autosize=True, margin=dict(l=0, r=0, t=0, b=0), paper_bgcolor="white", plot_bgcolor="white",
    showlegend=False, hovermode=False, bargap=0.09, boxgap=0.2, dragmode=False,
    xaxis=xax(anchor="y"),
    xaxis2=xax(anchor="y2", rangeslider=dict(visible=False)),
    xaxis3=xax(anchor="y3", showticklabels=True, tickvals=month_bars, ticktext=month_labels, ticklabelstandoff=12,
               tickfont=dict(family=FONT, size=23 * FS, color=TXT)),
    yaxis=yax([60 - (397 - 353) / SCALE_RS, 100 + (145 - 48) / SCALE_RS], [fy(397), fy(48)], rs_ticks, [f"{v}.00" for v in rs_ticks], "x"),
    yaxis2=yax([200 - (2027 - 1020) / SCALE_PRICE, 200 + (1020 - 397) / SCALE_PRICE], [fy(2027), fy(397)], price_ticks, [f"{v}.00" for v in price_ticks], "x2"),
    yaxis3=yax([(2318 - 2440) / SCALE_VOL, (2318 - 2027) / SCALE_VOL], [fy(2440), fy(2027)], volume_ticks, [f"{v}M" for v in volume_ticks], "x3"),
    shapes=shapes, annotations=ann,
)

fig.write_html("out.html", config=dict(displayModeBar=False, staticPlot=True), default_width="100vw", default_height="100vh",
               post_script="document.body.style.margin='0';document.documentElement.style.overflow='hidden';")
